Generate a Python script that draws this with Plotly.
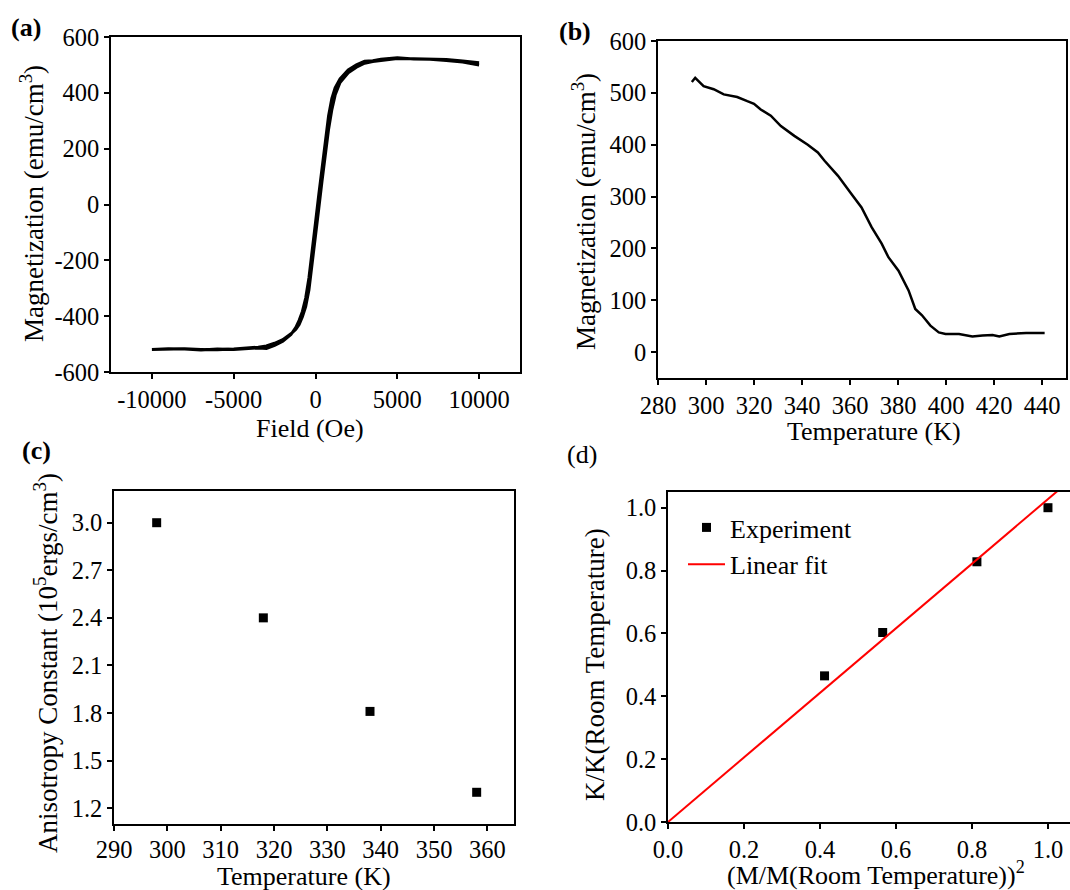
import plotly.graph_objects as go

# ---------------- data ----------------
# (a) hysteresis loop: descending and ascending branches
field_desc = [10000, 9000, 8000, 7000, 6000, 5000, 4000, 3500, 3000, 2500, 2000, 1500, 1200, 1000,
              800, 600, 400, 200, 0, -200, -400, -600, -800, -1000, -1200, -1500, -2000, -2500,
              -3000, -3500, -4000, -5000, -6000, -7000, -8000, -9000, -10000]
mag_desc = [500, 510, 516, 520, 521, 526, 520, 515, 513, 500, 482, 450, 418, 380,
            318, 230, 135, 35, -65, -165, -262, -335, -383, -415, -440, -466, -490, -505,
            -516, -514, -516, -519, -518, -521, -518, -517, -519]
field_asc = [-10000, -9000, -8000, -7000, -6000, -5000, -4000, -3500, -3000, -2500, -2000, -1500,
             -1200, -1000, -800, -600, -400, -200, 0, 200, 400, 600, 800, 1000, 1200, 1500, 2000,
             2500, 3000, 3500, 4000, 5000, 6000, 7000, 8000, 9000, 10000]
mag_asc = [-519, -518, -517, -519, -520, -518, -514, -511, -507, -497, -484, -463,
           -447, -430, -402, -366, -305, -215, -115, -15, 85, 185, 270, 340, 392, 437, 472,
           492, 506, 512, 516, 523, 522, 521, 519, 514, 508]

# (b) magnetization vs temperature
temp_b = [294.1, 295.5, 299.0, 303.2, 307.4, 313.0, 317.2, 320.0, 322.8, 327.0, 331.2, 336.8,
          342.4, 346.6, 349.4, 355.0, 360.6, 364.8, 369.0, 373.2, 376.0, 380.2, 384.4, 387.2,
          390.0, 393.5, 397.0, 399.8, 405.4, 411.0, 415.2, 419.4, 422.2, 426.4, 433.4, 441.1]
mag_b = [521, 529, 513, 507, 497, 492, 484, 479, 468, 456, 436, 417,
         400, 385, 369, 340, 305, 279, 241, 209, 183, 157, 119, 83,
         71, 51, 38, 35, 35, 30, 32, 33, 30, 35, 37, 37]

# (c) anisotropy constant vs temperature
temp_c = [298, 318, 338, 358]
aniso_c = [3.00, 2.40, 1.81, 1.30]

# (d) normalized anisotropy vs normalized magnetization squared
m2_d = [0.412, 0.565, 0.813, 1.0]
k_d = [0.465, 0.603, 0.828, 1.0]
fit_x = [0.0, 1.06]
fit_y = [0.0, 1.089]

# tick labels (hyphen minus as in the original)
a_xticks = [-10000, -5000, 0, 5000, 10000]
a_xtext = ["-10000", "-5000", "0", "5000", "10000"]
a_yticks = [-600, -400, -200, 0, 200, 400, 600]
a_ytext = ["-600", "-400", "-200", "0", "200", "400", "600"]

# ---------------- layout helpers ----------------
W, H = 1070, 890
FONT = "Liberation Serif, Times New Roman, serif"


def xd(l, r):
    return [l / W, min(r / W, 1.0)]


def yd(t, b):
    return [max(1 - b / H, 0.0), 1 - t / H]


axis_common = dict(showline=True, linecolor="black", linewidth=1.6, mirror=True,
                   ticks="outside", ticklen=5, tickwidth=1.6, tickcolor="black",
                   showgrid=False, zeroline=False, automargin=False,
                   tickfont=dict(family=FONT, size=24.5, color="black"))

fig = go.Figure()

# (a)
fig.add_trace(go.Scatter(x=field_desc + field_asc, y=mag_desc + mag_asc, mode="lines",
                         line=dict(color="black", width=3), showlegend=False,
                         xaxis="x", yaxis="y"))
# (b)
fig.add_trace(go.Scatter(x=temp_b, y=mag_b, mode="lines",
                         line=dict(color="black", width=2.5), showlegend=False,
                         xaxis="x2", yaxis="y2"))
# (c)
fig.add_trace(go.Scatter(x=temp_c, y=aniso_c, mode="markers",
                         marker=dict(symbol="square", size=9, color="black"), showlegend=False,
                         xaxis="x3", yaxis="y3"))
# (d)
fig.add_trace(go.Scatter(x=m2_d, y=k_d, mode="markers", name="Experiment",
                         marker=dict(symbol="square", size=9, color="black"),
                         xaxis="x4", yaxis="y4"))
fig.add_trace(go.Scatter(x=fit_x, y=fit_y, mode="lines", name="Linear fit",
                         line=dict(color="#ff0000", width=2),
                         xaxis="x4", yaxis="y4"))

fig.update_layout(
    width=W, height=H, margin=dict(l=0, r=0, t=0, b=0, pad=0, autoexpand=False),
    paper_bgcolor="white", plot_bgcolor="white",
    font=dict(family=FONT, color="black"),
    xaxis=dict(axis_common, domain=xd(111, 520), range=[-12500, 12500],
               tickvals=a_xticks, ticktext=a_xtext, anchor="y"),
    yaxis=dict(axis_common, domain=yd(37, 372), range=[-600, 600],
               tickvals=a_yticks, ticktext=a_ytext, anchor="x"),
    xaxis2=dict(axis_common, domain=xd(658, 1066), range=[280, 450], dtick=20, tick0=280,
                anchor="y2"),
    yaxis2=dict(axis_common, domain=yd(41, 378), range=[-50, 600], dtick=100, tick0=0,
                anchor="x2"),
    xaxis3=dict(axis_common, domain=xd(114, 514), range=[290, 365], dtick=10, tick0=290,
                ticklabelstandoff=-2, anchor="y3"),
    yaxis3=dict(axis_common, domain=yd(491, 824), range=[1.1, 3.2], dtick=0.3, tick0=1.2,
                tickformat=".1f", anchor="x3"),
    xaxis4=dict(axis_common, domain=xd(668, 1070), range=[0, 1.058], dtick=0.2, tick0=0,
                tickformat=".1f", anchor="y4"),
    yaxis4=dict(axis_common, domain=yd(492, 822), range=[0, 1.05], dtick=0.2, tick0=0,
                tickformat=".1f", mirror=False, anchor="x4"),
    legend=dict(x=683 / W, y=1 - 504 / H, xanchor="left", yanchor="top",
                bgcolor="rgba(0,0,0,0)", borderwidth=0, itemwidth=37,
                font=dict(family=FONT, size=26, color="black"), tracegroupgap=0),
)

annots = [
    # panel labels
    dict(text="<b>(a)</b>", x=26, y=27, size=26),
    dict(text="<b>(b)</b>", x=575, y=31, size=26),
    dict(text="<b>(c)</b>", x=36, y=451, size=26),
    dict(text="(d)", x=582, y=454, size=26),
    # x titles
    dict(text="Field (Oe)", x=310, y=428, size=26),
    dict(text="Temperature (K)", x=874, y=431, size=26),
    dict(text="Temperature (K)", x=304, y=876, size=26),
    dict(text="(M/M(Room Temperature))<sup>2</sup>", x=876, y=873, size=26),
    # y titles
    dict(text="Magnetization (emu/cm<sup>3</sup>)", x=32, y=204, size=27, angle=-90),
    dict(text="Magnetization (emu/cm<sup>3</sup>)", x=584, y=212, size=27, angle=-90),
    dict(text="Anisotropy Constant (10<sup>5</sup>ergs/cm<sup>3</sup>)", x=46, y=663, size=27,
         angle=-90),
    dict(text="K/K(Room Temperature)", x=595, y=665, size=27, angle=-90),
]
for a in annots:
    fig.add_annotation(text=a["text"], xref="paper", yref="paper",
                       x=a["x"] / W, y=1 - a["y"] / H, xanchor="center", yanchor="middle",
                       showarrow=False, textangle=a.get("angle", 0), borderpad=0,
                       font=dict(family=FONT, size=a["size"], color="black"))

fig.write_html("out.html")
